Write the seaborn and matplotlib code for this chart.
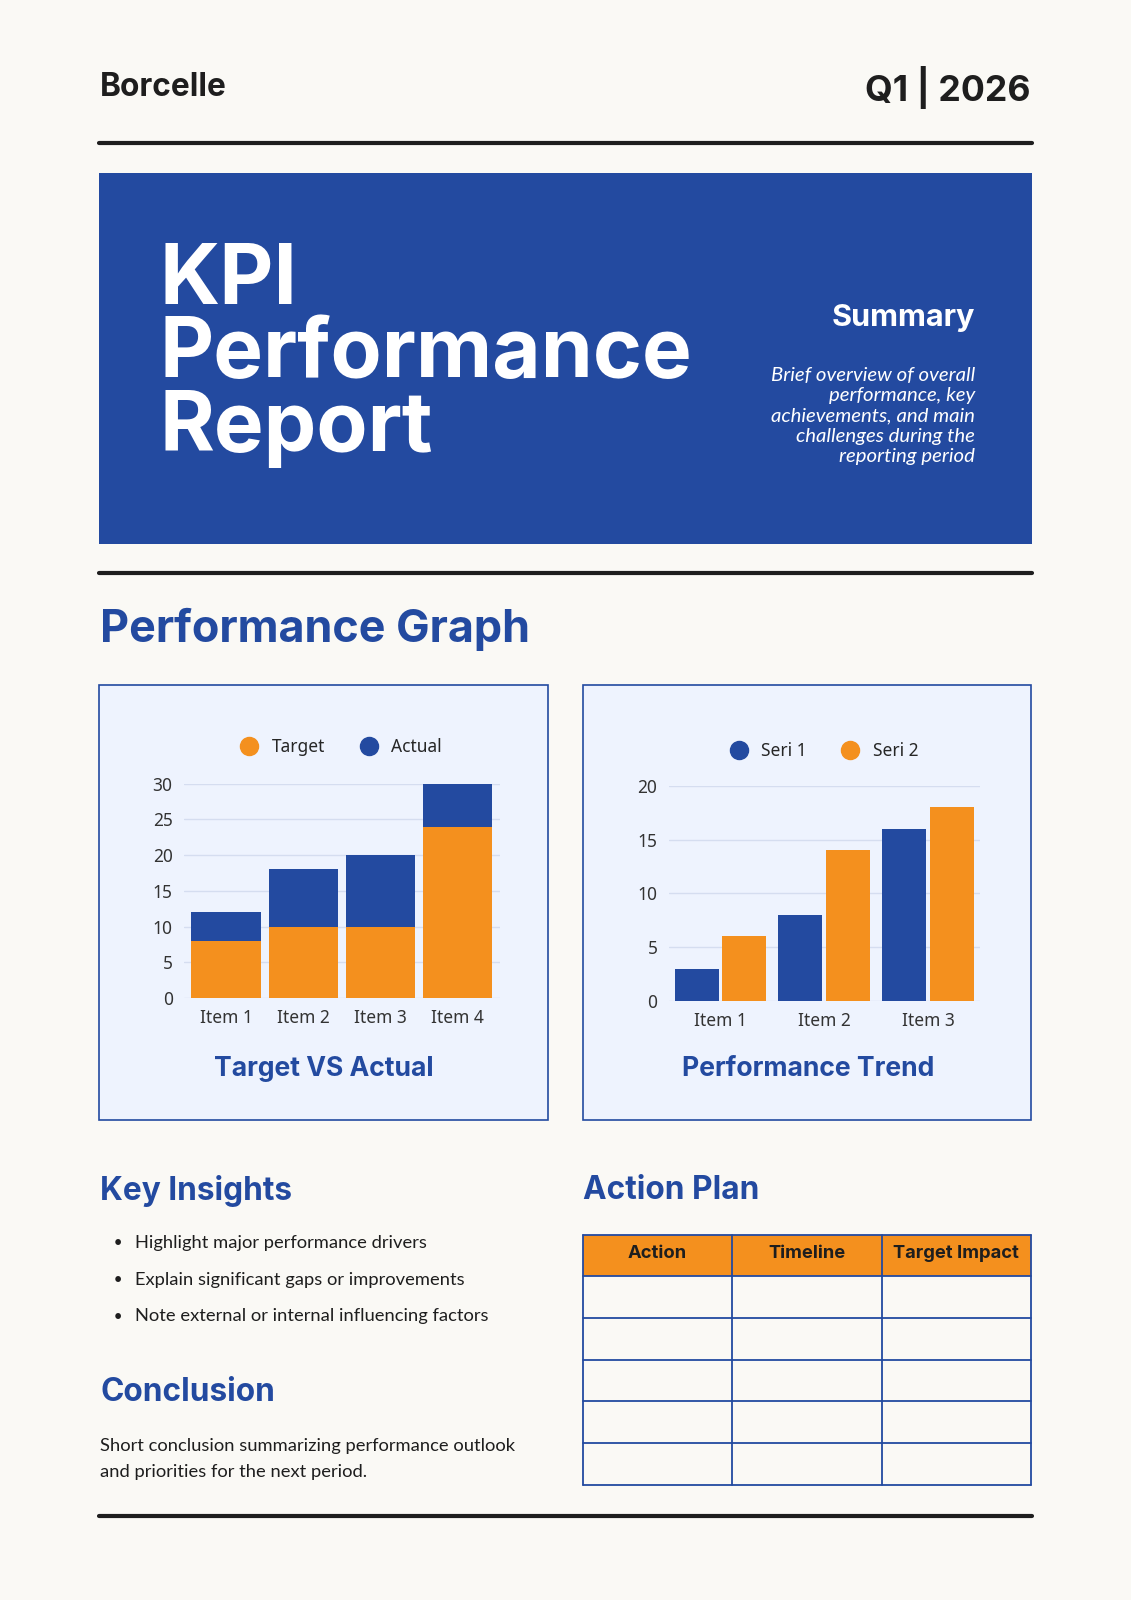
import matplotlib
matplotlib.use("Agg")
import matplotlib.pyplot as plt
import seaborn as sns
import pandas as pd
from matplotlib.patches import Rectangle
from matplotlib.lines import Line2D

sns.set_theme(style="white")
plt.rcParams['font.family'] = ['Inter', 'DejaVu Sans']

# ---- data ----
items_a = ["Item 1", "Item 2", "Item 3", "Item 4"]
target_vals = [8, 10, 10, 24]
actual_totals = [12, 18, 20, 30]
items_b = ["Item 1", "Item 2", "Item 3"]
seri1 = [3, 8, 16]
seri2 = [6, 14, 18]
insights = ["Highlight major performance drivers",
            "Explain significant gaps or improvements",
            "Note external or internal influencing factors"]
table_cols = ["Action", "Timeline", "Target Impact"]
n_rows = 5

BLUE = "#234AA0"
ORANGE = "#F4901E"
BG = "#FAF9F5"
PANEL = "#EEF3FE"
DARK = "#1E1E1E"
W, H = 1108, 1568

fig = plt.figure(figsize=(11.31, 16), dpi=100, facecolor=BG)

def fx(x): return x / W
def fy(y): return 1 - y / H
def fs(px): return px * (1600 / H) * 0.72

def txt(x, y, s, size, **kw):
    fig.text(fx(x), fy(y), s, fontsize=fs(size), **kw)

def hline(y, lw=3):
    fig.add_artist(Line2D([fx(97), fx(1011)], [fy(y), fy(y)], color=DARK, lw=lw,
                          transform=fig.transFigure))

def rect(x0, y0, x1, y1, fc, ec=None, lw=0, z=0):
    fig.add_artist(Rectangle((fx(x0), fy(y1)), fx(x1) - fx(x0), fy(y0) - fy(y1),
                             transform=fig.transFigure, fc=fc, ec=ec or fc, lw=lw, zorder=z))

# header
txt(98, 86, "Borcelle", 31, fontweight="bold", color=DARK, va="center")
txt(1010, 86, "Q1 | 2026", 35, fontweight="bold", color=DARK, va="center", ha="right")
hline(140)
rect(97, 170, 1011, 533, BLUE)
for s, y in [("KPI", 276), ("Performance", 348), ("Report", 420)]:
    txt(156, y, s, 82, fontweight="bold", color="white", va="center")
txt(955, 312, "Summary", 30, fontweight="bold", color="white", ha="right", va="center")
for s, y in zip(["Brief overview of overall", "performance, key", "achievements, and main",
                 "challenges during the", "reporting period"], [368, 388, 408, 428, 447]):
    txt(955, y, s, 20, style="italic", color="white", ha="right", va="center",
        family=["Lato", "DejaVu Sans"])
hline(562)
txt(98, 617, "Performance Graph", 44, fontweight="bold", color=BLUE, va="center")

# panels
rect(97, 671, 537, 1098, PANEL, BLUE, 1.2)
rect(571, 671, 1010, 1098, PANEL, BLUE, 1.2)

def style_ax(ax, ymax, step):
    ax.set_facecolor(PANEL)
    for sp in ax.spines.values():
        sp.set_visible(False)
    ax.set_ylim(0, ymax)
    ax.set_yticks(range(0, ymax + 1, step))
    ax.yaxis.grid(True, color="#D5DDF0", lw=1)
    ax.set_axisbelow(True)
    ax.tick_params(length=0, labelsize=fs(17), colors="#333333", pad=8)
    for t in ax.get_xticklabels() + ax.get_yticklabels():
        t.set_family(["Noto Sans", "DejaVu Sans"])
    ax.set_xlabel(""); ax.set_ylabel("")

# chart A
axA = fig.add_axes([fx(180), fy(978), fx(490) - fx(180), fy(768) - fy(978)])
dfA = pd.DataFrame({"item": items_a, "actual": actual_totals, "target": target_vals})
sns.barplot(data=dfA, x="item", y="actual", color=BLUE, width=0.9, ax=axA, saturation=1)
sns.barplot(data=dfA, x="item", y="target", color=ORANGE, width=0.9, ax=axA, saturation=1)
style_ax(axA, 30, 5)
for p in axA.patches: p.set_edgecolor("none")
axA.set_xlim(-0.55, 3.55)
handles = [Line2D([], [], marker="o", ls="", color=ORANGE, markersize=13),
           Line2D([], [], marker="o", ls="", color=BLUE, markersize=13)]
fig.legend(handles, ["Target", "Actual"], loc="center", bbox_to_anchor=(fx(330), fy(732)),
           ncol=2, frameon=False, prop={"family": "Noto Sans", "size": fs(17)},
           handletextpad=0.3, columnspacing=1.5)
txt(317, 1048, "Target VS Actual", 26, fontweight="bold", color=BLUE, ha="center", va="center")

# chart B
axB = fig.add_axes([fx(655), fy(981), fx(960) - fx(655), fy(770) - fy(981)])
dfB = pd.DataFrame({"item": items_b * 2, "val": seri1 + seri2,
                    "series": ["Seri 1"] * 3 + ["Seri 2"] * 3})
sns.barplot(data=dfB, x="item", y="val", hue="series", palette=[BLUE, ORANGE],
            width=0.92, gap=0.08, ax=axB, saturation=1, legend=False)
style_ax(axB, 20, 5)
for p in axB.patches: p.set_edgecolor("none")
axB.set_xlim(-0.5, 2.5)
handles = [Line2D([], [], marker="o", ls="", color=BLUE, markersize=13),
           Line2D([], [], marker="o", ls="", color=ORANGE, markersize=13)]
fig.legend(handles, ["Seri 1", "Seri 2"], loc="center", bbox_to_anchor=(fx(803), fy(736)),
           ncol=2, frameon=False, prop={"family": "Noto Sans", "size": fs(17)},
           handletextpad=0.3, columnspacing=1.5)
txt(792, 1048, "Performance Trend", 26, fontweight="bold", color=BLUE, ha="center", va="center")

# key insights
txt(98, 1167, "Key Insights", 31, fontweight="bold", color=BLUE, va="center")
for s, y in zip(insights, [1218, 1254, 1290]):
    txt(110, y, "•", 18, color=DARK, va="center")
    txt(132, y, s, 18, color=DARK, va="center", family=["Lato", "DejaVu Sans"])
txt(98, 1365, "Conclusion", 31, fontweight="bold", color=BLUE, va="center")
txt(98, 1417, "Short conclusion summarizing performance outlook", 18, color=DARK, va="center",
    family=["Lato", "DejaVu Sans"])
txt(98, 1443, "and priorities for the next period.", 18, color=DARK, va="center",
    family=["Lato", "DejaVu Sans"])

# action plan table
txt(571, 1167, "Action Plan", 31, fontweight="bold", color=BLUE, va="center")
axT = fig.add_axes([fx(571), fy(1455), fx(1010) - fx(571), fy(1210) - fy(1455)])
axT.set_xlim(0, len(table_cols)); axT.set_ylim(n_rows + 1, 0)
axT.axis("off")
axT.add_patch(Rectangle((0, 0), len(table_cols), 1, fc=ORANGE, ec="none"))
for i in range(len(table_cols) + 1):
    axT.plot([i, i], [0, n_rows + 1], color=BLUE, lw=1.3, clip_on=False)
for j in range(n_rows + 2):
    axT.plot([0, len(table_cols)], [j, j], color=BLUE, lw=1.3, clip_on=False)
for i, c in enumerate(table_cols):
    axT.text(i + 0.5, 0.45, c, ha="center", va="center", fontsize=fs(18),
             fontweight="bold", color=DARK)

hline(1486)
fig.savefig("out.png", dpi=100, facecolor=BG)
